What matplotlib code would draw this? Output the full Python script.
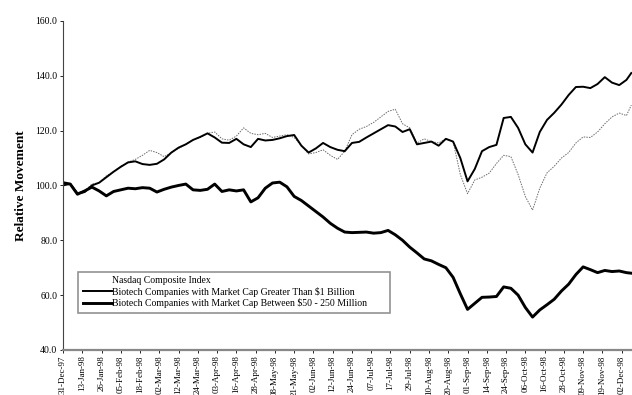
#!/usr/bin/env python3
"""Relative movement of Nasdaq vs. biotech market-cap groups, 1998."""

import numpy as np
import matplotlib

matplotlib.use("Agg")
import matplotlib.pyplot as plt

# trading-day index (0 = 31-Dec-97), one reading every 3 trading days
trade_day = list(range(0, 235, 3)) + [236]

nasdaq = [
    100.5, 100.8, 97.5, 98.0, 100.5, 101.0, 103.5, 105.0, 107.0, 108.5,
    109.5, 111.0, 112.8, 112.0, 110.5, 112.0, 113.5, 115.0, 116.6, 117.5,
    119.0, 119.5, 117.0, 116.5, 118.0, 121.0, 119.0, 118.5, 119.0, 117.5,
    118.0, 118.5, 117.5, 114.5, 111.5, 112.0, 113.0, 111.0, 109.5, 112.5,
    118.5, 120.5, 121.5, 123.0, 125.0, 127.0, 127.8, 122.5, 121.0, 115.5,
    117.0, 116.0, 115.5, 117.0, 116.0, 104.0, 97.0, 102.0, 103.0, 104.5,
    108.0, 111.0, 110.5, 104.0, 96.0, 91.0, 99.0, 104.6, 107.0, 110.0,
    112.0, 115.5, 117.7, 117.5, 119.5, 122.5, 125.0, 126.4, 125.5, 129.3,
]

biotech_large = [
    100.0, 100.6, 97.0, 97.6, 100.0, 101.0, 103.0, 105.0, 106.8, 108.4,
    108.8, 107.8, 107.5, 107.9, 109.5, 112.0, 113.8, 115.0, 116.6, 117.7,
    119.0, 117.5, 115.6, 115.5, 117.0, 115.0, 114.0, 117.0, 116.4, 116.6,
    117.2, 118.0, 118.4, 114.5, 112.0, 113.5, 115.5, 114.0, 113.0, 112.5,
    115.5, 115.9, 117.5, 119.0, 120.5, 122.0, 121.5, 119.5, 120.5, 115.0,
    115.5, 116.0, 114.5, 117.0, 116.0, 110.0, 101.5, 106.0, 112.5, 114.0,
    114.8, 124.6, 125.0, 121.0, 115.0, 112.0, 119.5, 123.9, 126.5, 129.5,
    133.0, 135.9, 136.0, 135.5, 137.0, 139.5, 137.5, 136.6, 138.5, 141.0,
]

biotech_small = [
    101.0, 100.5, 96.8, 98.0, 99.4, 98.0, 96.2, 97.8, 98.4, 99.0,
    98.8, 99.2, 99.0, 97.6, 98.6, 99.4, 100.0, 100.5, 98.4, 98.2,
    98.6, 100.5, 97.8, 98.4, 98.0, 98.4, 94.0, 95.5, 99.0, 100.9,
    101.2, 99.5, 96.0, 94.5, 92.5, 90.5, 88.5, 86.2, 84.4, 83.0,
    82.8, 82.9, 83.0, 82.6, 82.8, 83.6, 82.0, 80.0, 77.5, 75.4,
    73.2, 72.5, 71.2, 70.0, 66.5, 60.5, 54.8, 57.0, 59.2, 59.3,
    59.5, 63.0, 62.5, 60.0, 55.5, 52.0, 54.6, 56.5, 58.5, 61.5,
    64.0, 67.5, 70.3, 69.3, 68.2, 69.0, 68.6, 68.8, 68.2, 68.0,
]

tick_labels = [
    "31-Dec-97", "13-Jan-98", "26-Jan-98", "05-Feb-98", "18-Feb-98",
    "02-Mar-98", "12-Mar-98", "24-Mar-98", "03-Apr-98", "16-Apr-98",
    "28-Apr-98", "08-May-98", "21-May-98", "02-Jun-98", "12-Jun-98",
    "24-Jun-98", "07-Jul-98", "17-Jul-98", "29-Jul-98", "10-Aug-98",
    "20-Aug-98", "01-Sep-98", "14-Sep-98", "24-Sep-98", "06-Oct-98",
    "16-Oct-98", "28-Oct-98", "09-Nov-98", "19-Nov-98", "02-Dec-98",
]
tick_every = 8

legend_labels = [
    "Nasdaq Composite Index",
    "Biotech Companies with Market Cap Greater Than \\$1 Billion",
    "Biotech Companies with Market Cap Between \\$50 - 250 Million",
]


def main() -> None:
    plt.rcParams["font.family"] = ["Liberation Serif", "DejaVu Serif"]

    fig = plt.figure(figsize=(6.32, 3.95), dpi=100)
    ax = fig.add_axes([0.0997, 0.114, 0.9003, 0.833])

    ax.plot(trade_day, nasdaq, color="#6a6a6a", linewidth=0.7,
            linestyle=(0, (1.5, 1.2)), label=legend_labels[0])
    ax.plot(trade_day, biotech_large, color="black", linewidth=1.4,
            label=legend_labels[1])
    ax.plot(trade_day, biotech_small, color="black", linewidth=2.1,
            label=legend_labels[2])

    ax.set_ylim(40, 160)
    ax.set_yticks(np.arange(40, 161, 20))
    ax.set_yticklabels([f"{v:.1f}" for v in np.arange(40, 161, 20)], fontsize=7)
    ax.set_xlim(0, 236.3)
    ax.set_xticks([i * tick_every for i in range(len(tick_labels))])
    ax.set_xticklabels(tick_labels, rotation=90, fontsize=6.5)
    ax.tick_params(axis="both", length=2, width=0.6, pad=2)
    ax.set_ylabel("Relative Movement", fontsize=9.5, fontweight="bold", labelpad=6)

    for side in ("top", "right"):
        ax.spines[side].set_visible(False)
    ax.spines["left"].set_color("#444444")
    ax.spines["left"].set_linewidth(0.8)
    ax.spines["bottom"].set_color("#888888")
    ax.spines["bottom"].set_linewidth(1.6)

    leg = ax.legend(
        loc="lower left",
        bbox_to_anchor=(0.0176, 0.097, 0.566, 0.131),
        mode="expand",
        fontsize=7,
        frameon=True,
        fancybox=False,
        handlelength=3.0,
        handletextpad=0.0,
        borderpad=0.5,
        labelspacing=0.15,
    )
    # the scanned legend shows no sample for the faint Nasdaq line
    leg.get_lines()[0].set_visible(False)
    leg.get_frame().set_edgecolor("#777777")
    leg.get_frame().set_linewidth(1.2)

    fig.savefig("out.png", dpi=100)
    plt.close(fig)


if __name__ == "__main__":
    main()
